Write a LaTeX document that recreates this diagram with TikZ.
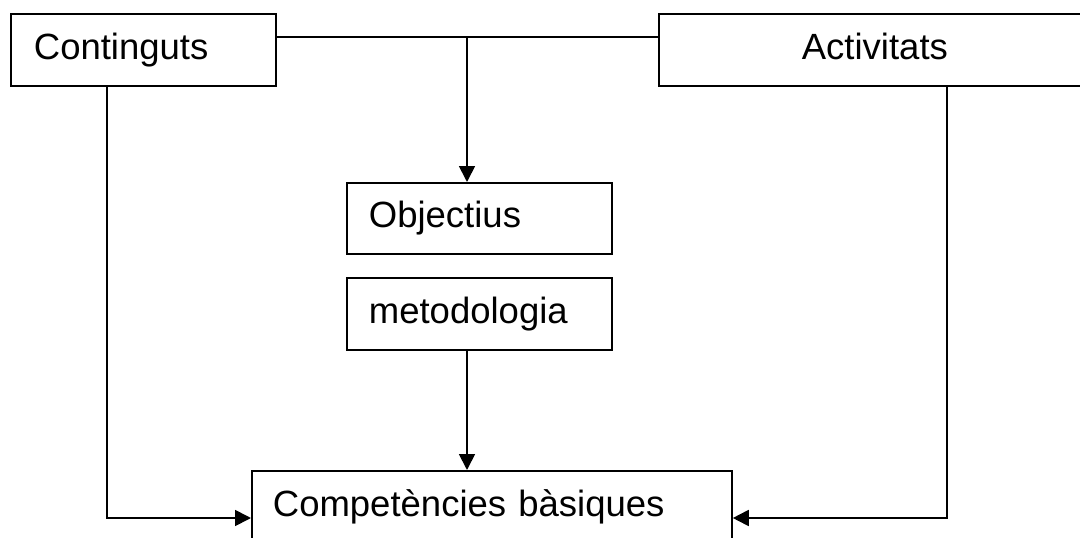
\documentclass[tikz,border=0pt]{standalone}
\usepackage{fontspec}
\setmainfont{Liberation Sans}
\usetikzlibrary{arrows.meta}
\begin{document}
\begin{tikzpicture}[x=1pt,y=-1pt,
  box/.style={draw, line width=1.8pt, rectangle, inner ysep=0pt, font=\fontsize{36.5}{40}\selectfont, text height=27pt, text depth=8pt, anchor=north west},
  lbox/.style={box, align=left},
  conn/.style={line width=1.8pt},
  arr/.style={conn, -{Triangle[length=16pt,width=16pt]}}]
\path[use as bounding box] (0,0) rectangle (1080,538);
\clip (0,0) rectangle (1080,538);
\node[lbox, minimum width=265pt, minimum height=72pt, inner xsep=23pt, text width=219pt] (cont) at (10,13) {Continguts};
\node[box, minimum width=432pt, minimum height=72pt, text width=300pt, align=center] (act) at (658,13) {Activitats};
\node[lbox, minimum width=265pt, minimum height=71pt, inner xsep=22pt, text width=221pt] (obj) at (346,182) {Objectius};
\node[lbox, minimum width=265pt, minimum height=72pt, inner xsep=22pt, text width=221pt] (met) at (346,277) {metodologia};
\node[lbox, minimum width=480pt, minimum height=72pt, inner xsep=21pt, text width=438pt] (comp) at (251,470) {Competències bàsiques};
\coordinate (j) at (467,37);
\draw[conn] (cont.east |- j) -- (act.west |- j);
\draw[arr] (j) -- (obj.north -| j);
\draw[arr] (met.south -| j) -- (comp.north -| j);
\coordinate (lc) at (107,518);
\coordinate (rc) at (947,518);
\draw[arr] (cont.south -| lc) -- (lc) -- (comp.west |- lc);
\draw[arr] (act.south -| rc) -- (rc) -- (comp.east |- rc);
\end{tikzpicture}
\end{document}
